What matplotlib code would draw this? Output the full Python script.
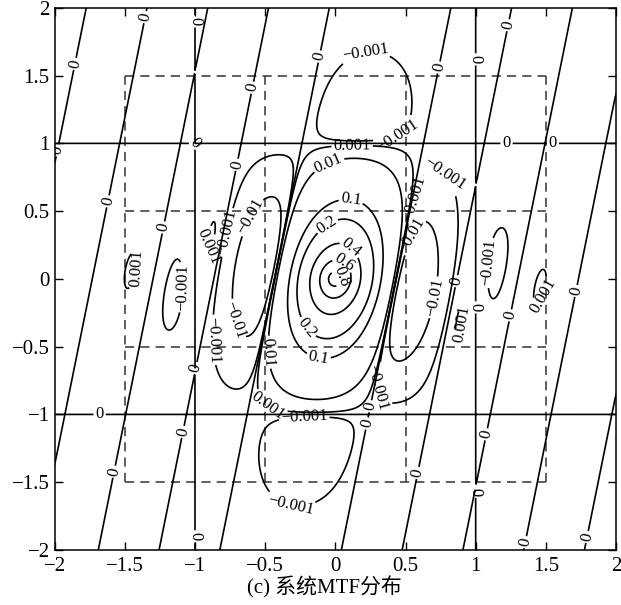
import numpy as np
import matplotlib.pyplot as plt

plt.rcParams['font.family'] = ['Liberation Serif', 'Noto Sans CJK SC']
plt.rcParams['axes.unicode_minus'] = True

# system MTF model (normalised spatial frequency): detector * image motion * optics
shear = 0.195        # tilt of the image-motion term
half_lobe = 0.433    # first zero of the image-motion sinc
decay_a = 2.15       # optics / atmosphere roll-off
decay_p = 0.786
decay_y = 0.6        # extra roll-off along y

levels = [-0.01, -0.001, 0, 0.001, 0.01, 0.1, 0.2, 0.4, 0.6, 0.8]
ticks = [-2, -1.5, -1, -0.5, 0, 0.5, 1, 1.5, 2]
tick_labels = ['−2', '−1.5', '−1', '−0.5', '0', '0.5', '1', '1.5', '2']
cell_edges = [-1.5, -0.5, 0.5, 1.5]

# where the contour labels sit
zero_spots = [(-1.87, 1.59), (-1.35, 1.93), (-1.0, 1.90), (-0.585, 1.41), (-1.0, 1.0),
              (-1.94, 0.94), (-1.61, 0.57), (-1.23, 0.38), (-0.69, 0.84), (-0.11, 1.64),
              (0.74, 1.56), (0.98, 1.62), (1.24, 1.87), (1.22, 0.99), (1.55, 0.99),
              (1.72, -0.09), (0.88, -0.02), (1.0, -0.21), (1.25, -0.27), (0.25, -0.94),
              (0.24, -1.07), (1.09, -1.15), (0.58, -1.43), (1.0, -1.57), (1.34, -1.94),
              (1.82, -1.91), (-0.99, -0.66), (-1.68, -1.0), (-1.08, -1.13), (-1.59, -1.42),
              (-0.99, -1.90), (0.60, 0.58)]
value_spots = [(0.21, 1.69), (0.39, 1.17), (0.12, 0.97), (-0.04, 0.83), (0.11, 0.57),
               (-0.05, 0.38), (0.12, 0.24), (0.06, 0.12), (0.02, 0.01), (-0.19, -0.35),
               (-0.12, -0.58), (-0.59, 0.45), (0.57, 0.31), (0.73, 0.72), (-1.44, 0.08),
               (-1.12, -0.06), (-0.91, 0.24), (-0.77, 0.34), (-0.71, -0.30), (-0.87, -0.45),
               (0.72, -0.14), (1.08, 0.12), (1.46, -0.12), (0.90, -0.33), (-0.45, -0.54),
               (-0.45, -0.88), (-0.22, -1.10), (-0.32, -1.67), (0.36, -0.80)]

f = np.linspace(-2, 2, 800)
X, Y = np.meshgrid(f, f)
detector = np.sinc(X) * np.sinc(Y)
motion = np.sinc((X - shear * Y) / half_lobe)
optics = np.exp(-decay_a * np.hypot(X, Y) ** decay_p - decay_y * Y ** 2)
Z = detector * motion * optics

fig = plt.figure(figsize=(6.21, 6.05), dpi=100)
ax = fig.add_axes([0.088, 0.091, 0.904, 0.896])

for e in cell_edges:
    ax.plot([e, e], [cell_edges[0], cell_edges[-1]], ls=(0, (6, 4)), color='#333333', lw=1.1)
    ax.plot([cell_edges[0], cell_edges[-1]], [e, e], ls=(0, (6, 4)), color='#333333', lw=1.1)

cs = ax.contour(X, Y, Z, levels=levels, colors='k', linewidths=1.2,
                negative_linestyles='solid')


def fmt(v):
    if v == 0:
        return '0'
    return f'{v:g}'.replace('-', '−')


ax.set_xlim(-2, 2)
ax.set_ylim(-2, 2)
ax.clabel(cs, fmt=fmt, fontsize=12, inline=True, inline_spacing=2,
          manual=zero_spots + value_spots)

ax.set_xticks(ticks)
ax.set_yticks(ticks)
ax.set_xticklabels(tick_labels)
ax.set_yticklabels(tick_labels)
ax.tick_params(direction='in', length=6, labelsize=15, top=True, right=True, width=1)
ax.tick_params(axis='x', pad=5)
for s in ax.spines.values():
    s.set_linewidth(1.1)
ax.set_xlabel('(c) 系统MTF分布', fontsize=15, labelpad=0, x=0.48)

fig.savefig('out.png', dpi=100)
